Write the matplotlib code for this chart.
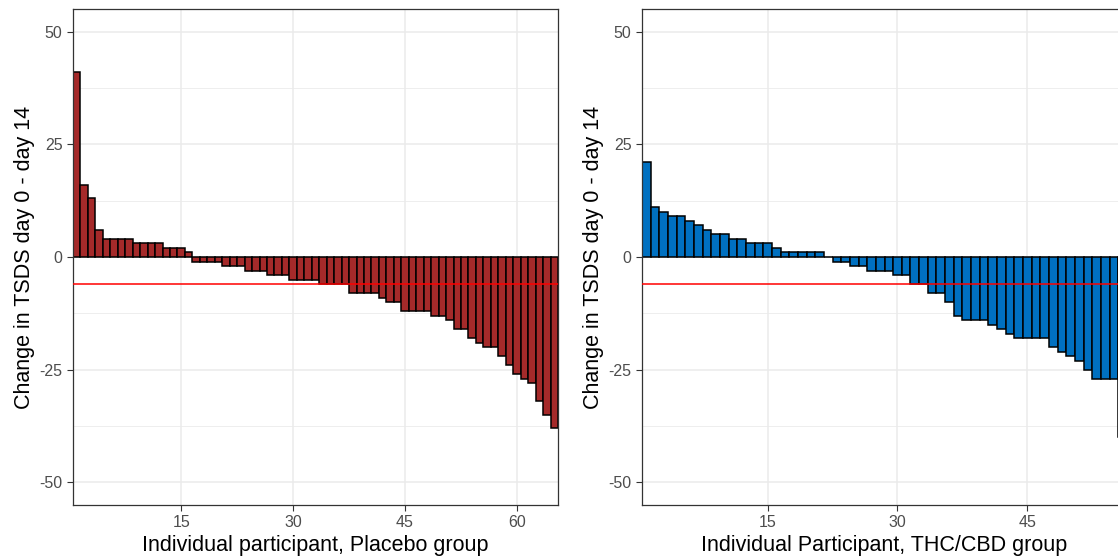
import matplotlib
matplotlib.use("Agg")
import matplotlib.pyplot as plt
import numpy as np

plt.rcParams["font.family"] = ["Liberation Sans", "DejaVu Sans"]
plt.rcParams["axes.unicode_minus"] = False

# change in TSDS (day 0 - day 14), one value per participant, sorted
placebo = [41, 16, 13, 6, 4, 4, 4, 4, 3, 3, 3, 3, 2, 2, 2, 1,
           -1, -1, -1, -1, -2, -2, -2, -3, -3, -3, -4, -4, -4,
           -5, -5, -5, -5, -6, -6, -6, -6, -8, -8, -8, -8, -9,
           -10, -10, -12, -12, -12, -12, -13, -13, -14, -16, -16,
           -18, -19, -20, -20, -22, -24, -26, -27, -28, -32, -35, -38]
thc_cbd = [21, 11, 10, 9, 9, 8, 7, 6, 5, 5, 4, 4, 3, 3, 3, 2,
           1, 1, 1, 1, 1, 0, -1, -1, -2, -2, -3, -3, -3, -4, -4,
           -6, -6, -8, -8, -10, -13, -14, -14, -14, -15, -16, -17,
           -18, -18, -18, -18, -20, -21, -22, -23, -25, -27, -27, -27, -40]
ref_line = -6
x_ticks = [15, 30, 45, 60]
y_ticks = [-50, -25, 0, 25, 50]
y_minor = [-37.5, -12.5, 12.5, 37.5]

W, H = 1118, 558
fig = plt.figure(figsize=(W / 100, H / 100), dpi=100)


def panel(left, values, color, xlabel):
    ax = fig.add_axes([left / W, 53 / H, 485 / W, 496 / H])
    n = len(values)
    x = np.arange(1, n + 1)
    ax.set_axisbelow(True)
    for y in y_minor:
        ax.axhline(y, color="#EBEBEB", lw=0.6, zorder=0)
    ax.grid(True, color="#EBEBEB", lw=1.1)
    ax.bar(x, values, width=1, color=color, edgecolor="black", linewidth=1.1, zorder=2)
    ax.axhline(ref_line, color="red", lw=1.1, zorder=3)
    ax.set_xticks([t for t in x_ticks if t <= n])
    ax.set_yticks(y_ticks)
    ax.set_xlim(0.5, n + 0.5)
    ax.set_ylim(-55, 55)
    ax.tick_params(colors="#333333", labelcolor="#4D4D4D", labelsize=11.5,
                   length=4, width=0.8)
    for s in ax.spines.values():
        s.set_color("#333333")
        s.set_linewidth(0.9)
    ax.set_xlabel(xlabel, fontsize=15.5, labelpad=3)
    ax.set_ylabel("Change in TSDS day 0 - day 14", fontsize=15.5, labelpad=3)
    return ax


panel(73, placebo, "#A52A2A", "Individual participant, Placebo group")
panel(642, thc_cbd, "#0070C0", "Individual Participant, THC/CBD group")

fig.savefig("out.png", dpi=100)
